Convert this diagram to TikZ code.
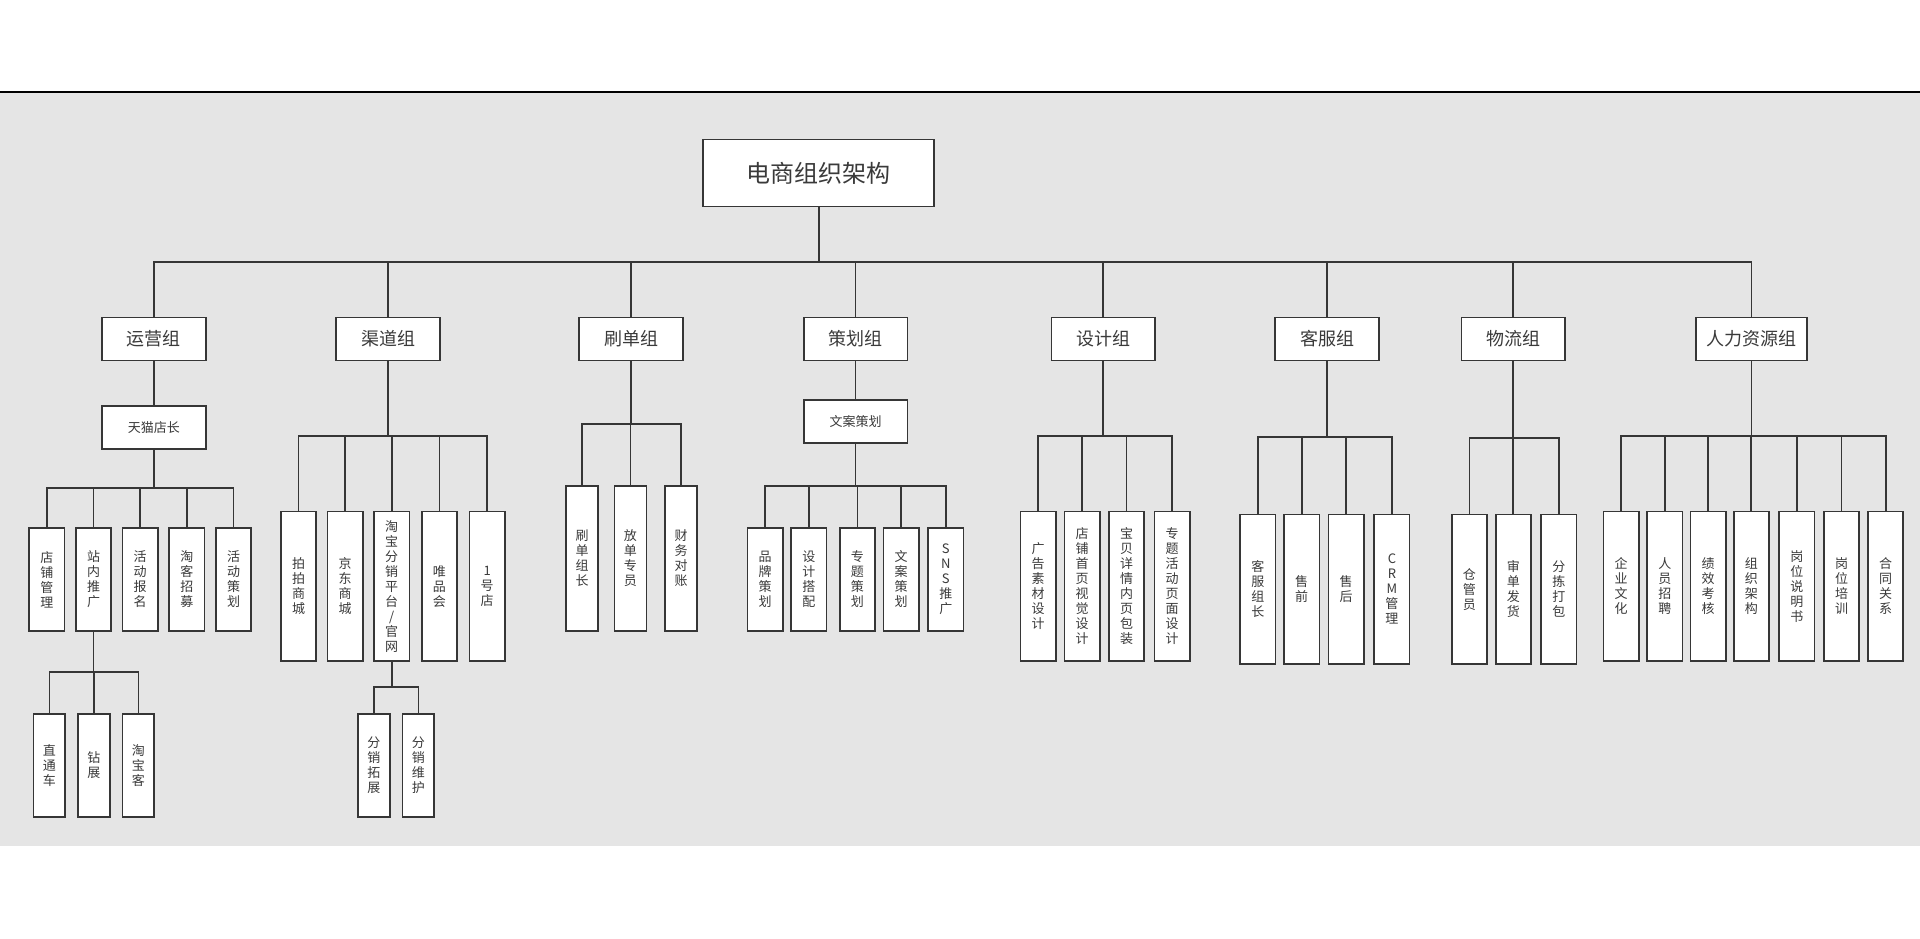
\documentclass[tikz,border=0pt]{standalone}
\usepackage{fontspec}
\setmainfont{Noto Sans CJK SC}
\definecolor{bgc}{HTML}{E5E5E5}
\definecolor{linec}{HTML}{363636}
\definecolor{textc}{HTML}{3A3A3A}
\tikzset{
  box/.style={draw=linec, line width=1.7pt, fill=white, inner sep=0pt, text=textc, align=center},
  rootbox/.style={box, minimum width=231pt, minimum height=67pt, font=\fontsize{24}{28}\selectfont},
  grp/.style={box, minimum width=103.7pt, minimum height=43pt, font=\fontsize{18}{22}\selectfont},
  sub/.style={box, minimum width=103.7pt, minimum height=43pt, font=\fontsize{13}{16}\selectfont},
  leafA/.style={box, minimum width=35.3pt, minimum height=102.7pt, font=\fontsize{13}{15}\selectfont},
  leafB/.style={box, minimum width=35.3pt, minimum height=149.7pt, font=\fontsize{13}{15}\selectfont},
  leafC/.style={box, minimum width=31.8pt, minimum height=103pt, font=\fontsize{13}{15}\selectfont},
  leafD/.style={box, minimum width=32pt, minimum height=145pt, font=\fontsize{13}{15}\selectfont},
  conn/.style={draw=linec, line width=1.8pt},
}
\begin{document}
\begin{tikzpicture}[x=1pt, y=-1pt]
\useasboundingbox (0,0) rectangle (1920,938);
\fill[bgc] (0,92) rectangle (1920,846);
\draw[black, line width=2pt] (0,92) -- (1920,92);

% root and groups
\node[rootbox] (root) at (818.8,173) {电商组织架构};
\node[grp] (g1) at (153.8,339) {运营组};
\node[grp] (g2) at (388,339) {渠道组};
\node[grp] (g3) at (631,339) {刷单组};
\node[grp] (g4) at (855.5,339) {策划组};
\node[grp] (g5) at (1103.3,339) {设计组};
\node[grp] (g6) at (1327,339) {客服组};
\node[grp] (g7) at (1513.3,339) {物流组};
\node[grp, minimum width=111pt] (g8) at (1751.4,339) {人力资源组};

\coordinate (mb) at (0,261.7);
\foreach \g in {g1,g2,g3,g4,g5,g6,g7,g8}
  \draw[conn] (root.south) -- (root.south |- mb) -| (\g.north);

% 运营组
\node[sub] (tm) at (153.8,427.4) {天猫店长};
\draw[conn] (g1.south) -- (tm.north);
\node[leafA] (a1) at (46.9,579.4) {店\\铺\\管\\理};
\node[leafA] (a2) at (93.5,579.4) {站\\内\\推\\广};
\node[leafA] (a3) at (140.2,579.4) {活\\动\\报\\名};
\node[leafA] (a4) at (186.9,579.4) {淘\\客\\招\\募};
\node[leafA] (a5) at (233.5,579.4) {活\\动\\策\\划};
\coordinate (b1) at (0,488.3);
\foreach \c in {a1,a2,a3,a4,a5}
  \draw[conn] (tm.south) -- (tm.south |- b1) -| (\c.north);
\node[leafC] (a21) at (49.4,765.2) {直\\通\\车};
\node[leafC] (a22) at (93.9,765.2) {钻\\展};
\node[leafC] (a23) at (138.4,765.2) {淘\\宝\\客};
\coordinate (b11) at (0,672.3);
\foreach \c in {a21,a22,a23}
  \draw[conn] (a2.south) -- (a2.south |- b11) -| (\c.north);

% 渠道组
\node[leafB] (q1) at (298.5,586.2) {拍\\拍\\商\\城};
\node[leafB] (q2) at (345.1,586.2) {京\\东\\商\\城};
\node[leafB] (q3) at (391.7,586.2) {淘\\宝\\分\\销\\平\\台\\/\\官\\网};
\node[leafB] (q4) at (439.4,586.2) {唯\\品\\会};
\node[leafB] (q5) at (487.2,586.2) {1\\号\\店};
\coordinate (b2) at (0,436);
\foreach \c in {q1,q2,q3,q4,q5}
  \draw[conn] (g2.south) -- (g2.south |- b2) -| (\c.north);
\node[leafC] (q31) at (373.9,765.2) {分\\销\\拓\\展};
\node[leafC] (q32) at (418.4,765.2) {分\\销\\维\\护};
\coordinate (b21) at (0,687.3);
\foreach \c in {q31,q32}
  \draw[conn] (q3.south) -- (q3.south |- b21) -| (\c.north);

% 刷单组
\node[leafD] (s1) at (582.2,558.5) {刷\\单\\组\\长};
\node[leafD] (s2) at (630.4,558.5) {放\\单\\专\\员};
\node[leafD] (s3) at (681.2,558.5) {财\\务\\对\\账};
\coordinate (b3) at (0,423.7);
\foreach \c in {s1,s2,s3}
  \draw[conn] (g3.south) -- (g3.south |- b3) -| (\c.north);

% 策划组
\node[sub] (wa) at (855.5,421.5) {文案策划};
\draw[conn] (g4.south) -- (wa.north);
\node[leafA] (c1) at (765.1,579.4) {品\\牌\\策\\划};
\node[leafA] (c2) at (808.8,579.4) {设\\计\\搭\\配};
\node[leafA] (c3) at (857.4,579.4) {专\\题\\策\\划};
\node[leafA] (c4) at (901,579.4) {文\\案\\策\\划};
\node[leafA] (c5) at (945.8,579.4) {S\\N\\S\\推\\广};
\coordinate (b4) at (0,485.7);
\foreach \c in {c1,c2,c3,c4,c5}
  \draw[conn] (wa.south) -- (wa.south |- b4) -| (\c.north);

% 设计组
\node[leafB] (d1) at (1038.2,586.2) {广\\告\\素\\材\\设\\计};
\node[leafB] (d2) at (1082,586.2) {店\\铺\\首\\页\\视\\觉\\设\\计};
\node[leafB] (d3) at (1126.5,586.2) {宝\\贝\\详\\情\\内\\页\\包\\装};
\node[leafB] (d4) at (1172,586.2) {专\\题\\活\\动\\页\\面\\设\\计};
\coordinate (b5) at (0,435.7);
\foreach \c in {d1,d2,d3,d4}
  \draw[conn] (g5.south) -- (g5.south |- b5) -| (\c.north);

% 客服组
\node[leafB] (k1) at (1257.8,589.2) {客\\服\\组\\长};
\node[leafB] (k2) at (1301.7,589.2) {售\\前};
\node[leafB] (k3) at (1346.2,589.2) {售\\后};
\node[leafB] (k4) at (1391.9,589.2) {C\\R\\M\\管\\理};
\coordinate (b6) at (0,437);
\foreach \c in {k1,k2,k3,k4}
  \draw[conn] (g6.south) -- (g6.south |- b6) -| (\c.north);

% 物流组
\node[leafB] (w1) at (1469.4,589.2) {仓\\管\\员};
\node[leafB] (w2) at (1513.3,589.2) {审\\单\\发\\货};
\node[leafB] (w3) at (1558.8,589.2) {分\\拣\\打\\包};
\coordinate (b7) at (0,437.7);
\foreach \c in {w1,w2,w3}
  \draw[conn] (g7.south) -- (g7.south |- b7) -| (\c.north);

% 人力资源组
\node[leafB] (r1) at (1621.1,586.2) {企\\业\\文\\化};
\node[leafB] (r2) at (1664.9,586.2) {人\\员\\招\\聘};
\node[leafB] (r3) at (1708.2,586.2) {绩\\效\\考\\核};
\node[leafB] (r4) at (1751.3,586.2) {组\\织\\架\\构};
\node[leafB] (r5) at (1796.8,586.2) {岗\\位\\说\\明\\书};
\node[leafB] (r6) at (1841.5,586.2) {岗\\位\\培\\训};
\node[leafB] (r7) at (1885.6,586.2) {合\\同\\关\\系};
\coordinate (b8) at (0,436);
\foreach \c in {r1,r2,r3,r4,r5,r6,r7}
  \draw[conn] (g8.south) -- (g8.south |- b8) -| (\c.north);
\end{tikzpicture}
\end{document}
